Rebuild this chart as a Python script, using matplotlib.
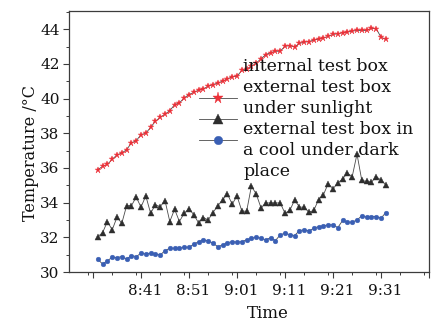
import matplotlib
matplotlib.use("Agg")
import matplotlib.pyplot as plt
import matplotlib.transforms as mtransforms
from matplotlib.ticker import FixedLocator, MultipleLocator

# minutes after 8:00, one reading per minute (8:32 .. 9:32)
minutes = list(range(32, 93))

internal_box = [
    35.90, 36.09, 36.20, 36.50, 36.75, 36.86, 37.05, 37.44, 37.57, 37.92,
    38.00, 38.34, 38.69, 38.92, 39.10, 39.30, 39.65, 39.75, 40.04, 40.23,
    40.36, 40.48, 40.56, 40.71, 40.80, 40.90, 41.00, 41.14, 41.25, 41.29,
    41.62, 41.72, 41.85, 42.05, 42.29, 42.54, 42.64, 42.73, 42.73, 43.02,
    43.05, 42.98, 43.18, 43.25, 43.29, 43.37, 43.43, 43.50, 43.58, 43.70,
    43.74, 43.80, 43.83, 43.89, 43.93, 43.93, 43.93, 44.05, 44.03, 43.54,
    43.41,
]
external_sun = [
    32.04, 32.27, 32.91, 32.43, 33.16, 32.81, 33.82, 33.82, 34.32, 33.74,
    34.39, 33.39, 33.87, 33.77, 34.12, 32.91, 33.62, 32.91, 33.39, 33.65,
    33.30, 32.83, 33.14, 33.00, 33.43, 33.82, 34.16, 34.50, 33.91, 34.39,
    33.52, 33.49, 34.95, 34.50, 33.70, 33.98, 33.98, 33.98, 33.98, 33.39,
    33.55, 34.15, 33.75, 33.72, 33.45, 33.55, 34.18, 34.45, 35.10, 34.80,
    35.13, 35.37, 35.70, 35.50, 36.80, 35.28, 35.22, 35.18, 35.50, 35.30,
    35.03,
]
external_shade = [
    30.73, 30.46, 30.65, 30.85, 30.83, 30.89, 30.75, 30.94, 30.89, 31.08,
    31.04, 31.08, 31.04, 30.98, 31.23, 31.37, 31.37, 31.37, 31.43, 31.43,
    31.60, 31.75, 31.85, 31.79, 31.66, 31.46, 31.56, 31.69, 31.75, 31.72,
    31.75, 31.85, 31.95, 32.00, 31.95, 31.85, 31.98, 31.81, 32.14, 32.24,
    32.15, 32.10, 32.39, 32.43, 32.37, 32.52, 32.62, 32.66, 32.72, 32.72,
    32.56, 32.97, 32.87, 32.87, 33.00, 33.24, 33.16, 33.20, 33.20, 33.10,
    33.43,
]

x_ticks = [31, 41, 51, 61, 71, 81, 91, 101]
x_tick_labels = ["", "8:41", "8:51", "9:01", "9:11", "9:21", "9:31", ""]
legend_text = ("internal test box\nexternal test box\nunder sunlight\n"
               "external test box in\na cool under dark\nplace")

plt.rcParams["font.family"] = "DejaVu Serif"

W, H = 433, 321
fig = plt.figure(figsize=(W / 100, H / 100), dpi=100)
ax = fig.add_axes([69 / W, 1 - 272 / H, (429 - 69) / W, (272 - 11) / H])

line_kw = dict(color="#4a4a4a", linewidth=0.6)
h1, = ax.plot(minutes, internal_box, marker="*", markersize=4.6,
              markerfacecolor="#ec3038", markeredgecolor="#ec3038",
              markeredgewidth=0.3, **line_kw)
h2, = ax.plot(minutes, external_sun, marker="^", markersize=3.7,
              markerfacecolor="#2e2e2e", markeredgecolor="#2e2e2e",
              markeredgewidth=0.3, **line_kw)
h3, = ax.plot(minutes, external_shade, marker="o", markersize=3.4,
              markerfacecolor="#3a5fb4", markeredgecolor="#3a5fb4",
              markeredgewidth=0.3, **line_kw)

ax.set_xlim(26, 101)
ax.set_ylim(30, 45.05)

ax.xaxis.set_major_locator(FixedLocator(x_ticks))
ax.set_xticklabels(x_tick_labels)
ax.xaxis.set_minor_locator(MultipleLocator(5))
ax.set_yticks(range(30, 45, 2))
ax.yaxis.set_minor_locator(MultipleLocator(1))

for s in ax.spines.values():
    s.set_color("#3c3c3c")
    s.set_linewidth(0.9)
ax.tick_params(axis="both", which="major", direction="out", length=4.3,
               width=0.8, color="#3c3c3c", labelsize=11, labelcolor="#111111")
ax.tick_params(axis="both", which="minor", direction="out", length=2.3,
               width=0.7, color="#3c3c3c")
ax.tick_params(axis="x", which="major", pad=4.5)
ax.tick_params(axis="y", which="major", pad=2.5)

# shift the time labels a little to the right
offset = mtransforms.ScaledTranslation(4 / 100, 0, fig.dpi_scale_trans)
for lbl in ax.get_xticklabels():
    lbl.set_transform(lbl.get_transform() + offset)

ax.set_xlabel("Time", fontsize=12, color="#111111")
ax.set_ylabel("Temperature /°C", fontsize=11.5, color="#111111")
ax.xaxis.set_label_coords((268 - 69) / 360, -0.125)
ax.yaxis.set_label_coords(-0.083, 0.455)

leg = ax.legend([h1, h2, h3], ["", "", ""], loc="upper left",
                bbox_to_anchor=(199 / W, 1 - 92 / H),
                bbox_transform=fig.transFigure, frameon=False, fontsize=10,
                handlelength=2.7, handletextpad=0.0, labelspacing=0.5,
                borderpad=0, borderaxespad=0, markerscale=1.8)

fig.text(243 / W, 1 - 58 / H, legend_text, fontsize=12.5, va="top",
         ha="left", color="#111111", linespacing=1.3)

fig.savefig("out.png", dpi=100, facecolor="white")
